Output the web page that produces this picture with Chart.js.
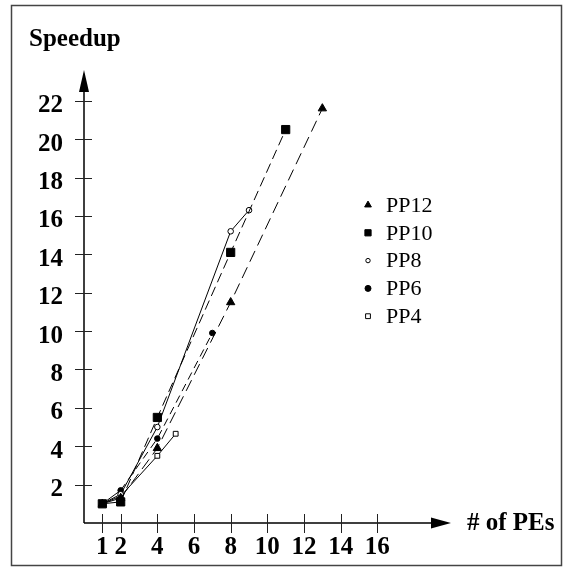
<!DOCTYPE html>
<html>
<head>
<meta charset="utf-8">
<script src="https://cdn.jsdelivr.net/npm/chart.js@4.4.1/dist/chart.umd.min.js"></script>
<style>
  html, body { margin: 0; padding: 0; background: #fff; }
  #wrap { width: 566px; height: 570px; }
</style>
</head>
<body>
<div id="wrap"><canvas id="speedupChart" width="566" height="570"></canvas></div>
<script>
/* Speedup vs number of PEs */

const X_TICKS = [1, 2, 4, 6, 8, 10, 12, 14, 16];
const Y_TICKS = [2, 4, 6, 8, 10, 12, 14, 16, 18, 20, 22];

const SERIES_NAMES = ['PP12', 'PP10', 'PP8', 'PP6', 'PP4'];

const PP12_X = [1, 2, 4, 8, 13];
const PP12_Y = [1.0, 1.3, 3.9, 11.5, 21.6];
const PP10_X = [1, 2, 4, 8, 11];
const PP10_Y = [1.0, 1.1, 5.5, 14.1, 20.5];
const PP8_X  = [1, 2, 4, 8, 9];
const PP8_Y  = [1.0, 1.5, 5.0, 15.2, 16.3];
const PP6_X  = [1, 2, 4, 7];
const PP6_Y  = [1.0, 1.7, 4.4, 9.9];
const PP4_X  = [1, 2, 4, 5];
const PP4_Y  = [1.0, 1.4, 3.5, 4.65];

const SERIF = '"Liberation Serif", "DejaVu Serif", serif';
const pts = (xs, ys) => xs.map((x, i) => ({ x: x, y: ys[i] }));

// marker + dash for each series
const STYLES = [
  { pt: 'triangle', r: 4.8, fill: '#000', dash: [12, 6], lr: 3.9 },
  { pt: 'rect',     r: 5.8, fill: '#000', dash: [10, 5], lr: 4.4 },
  { pt: 'circle',   r: 2.8, fill: '#fff', dash: [],      lr: 2.2 },
  { pt: 'circle',   r: 2.8, fill: '#000', dash: [8, 5],  lr: 3.0 },
  { pt: 'rect',     r: 3.4, fill: '#fff', dash: [],      lr: 3.4 }
];
const DATA = [pts(PP12_X, PP12_Y), pts(PP10_X, PP10_Y), pts(PP8_X, PP8_Y), pts(PP6_X, PP6_Y), pts(PP4_X, PP4_Y)];

const datasets = SERIES_NAMES.map((name, i) => {
  const s = STYLES[i];
  return {
    label: name,
    data: DATA[i],
    borderColor: '#000',
    borderWidth: 1,
    backgroundColor: s.fill,
    pointStyle: s.pt,
    pointRadius: s.r,
    pointBorderWidth: 1,
    pointBorderColor: '#000',
    pointBackgroundColor: s.fill,
    legendRadius: s.lr,
    segment: { borderDash: c => c.p0DataIndex === 0 ? [] : s.dash },
    tension: 0,
    clip: false
  };
});

// axes with arrows, crossing tick marks, titles, frame, legend
const decorPlugin = {
  id: 'decor',
  afterDraw(chart) {
    const ctx = chart.ctx;
    const xs = chart.scales.x, ys = chart.scales.y;
    const ox = xs.getPixelForValue(0), oy = ys.getPixelForValue(0);
    ctx.save();

    // frame
    ctx.strokeStyle = '#444';
    ctx.lineWidth = 1.5;
    ctx.strokeRect(11.5, 5.5, 550, 560);

    // axis lines
    ctx.strokeStyle = '#000';
    ctx.lineWidth = 1.5;
    ctx.beginPath();
    ctx.moveTo(ox, oy); ctx.lineTo(ox, 88);
    ctx.moveTo(ox, oy); ctx.lineTo(434, oy);
    ctx.stroke();

    // arrows
    ctx.fillStyle = '#000';
    ctx.beginPath();
    ctx.moveTo(ox, 70); ctx.lineTo(ox - 5, 92); ctx.lineTo(ox + 5, 92); ctx.closePath();
    ctx.fill();
    ctx.beginPath();
    ctx.moveTo(451, oy); ctx.lineTo(431, oy - 5.5); ctx.lineTo(431, oy + 5.5); ctx.closePath();
    ctx.fill();

    // tick marks crossing the axes
    ctx.lineWidth = 1;
    ctx.strokeStyle = '#222';
    ctx.beginPath();
    ys.ticks.forEach(t => {
      const py = Math.round(ys.getPixelForValue(t.value)) + 0.5;
      ctx.moveTo(ox - 9, py); ctx.lineTo(ox + 8, py);
    });
    xs.ticks.forEach(t => {
      const px = Math.round(xs.getPixelForValue(t.value)) + 0.5;
      ctx.moveTo(px, oy - 9); ctx.lineTo(px, oy + 10);
    });
    ctx.stroke();

    // titles
    ctx.fillStyle = '#000';
    ctx.font = 'bold 25px ' + SERIF;
    ctx.textAlign = 'left';
    ctx.textBaseline = 'alphabetic';
    ctx.fillText('Speedup', 29, 46);
    ctx.fillText('# of PEs', 467, 530);

    // legend
    chart.data.datasets.forEach((ds, i) => {
      const ly = 205 + i * 27.8;
      ctx.fillStyle = ds.pointBackgroundColor;
      ctx.strokeStyle = '#000';
      ctx.lineWidth = 1;
      ctx.setLineDash([]);
      Chart.helpers.drawPoint(ctx, {
        pointStyle: ds.pointStyle,
        radius: ds.legendRadius,
        rotation: 0,
        borderWidth: 1
      }, 368, ly);
      ctx.fillStyle = '#000';
      ctx.font = '22px ' + SERIF;
      ctx.textBaseline = 'middle';
      ctx.fillText(ds.label, 386, ly + 1);
    });
    ctx.restore();
  }
};

const tickFont = { family: SERIF, size: 25, weight: 'bold' };

new Chart(document.getElementById('speedupChart'), {
  type: 'line',
  data: { datasets: datasets },
  plugins: [decorPlugin],
  options: {
    responsive: false,
    animation: false,
    events: [],
    layout: { padding: { left: 0, top: 72, right: 115.3, bottom: 0 } },
    plugins: { legend: { display: false }, tooltip: { enabled: false } },
    scales: {
      x: {
        type: 'linear',
        min: 0, max: 20,
        afterBuildTicks: s => { s.ticks = X_TICKS.map(v => ({ value: v })); },
        afterFit: s => { s.height = 47; },
        grid: { display: false, drawTicks: false },
        border: { display: false },
        ticks: { font: tickFont, color: '#000', padding: 10, maxRotation: 0, autoSkip: false }
      },
      y: {
        type: 'linear',
        min: 0, max: 23.5,
        afterBuildTicks: s => { s.ticks = Y_TICKS.map(v => ({ value: v })); },
        afterFit: s => { s.width = 84; },
        grid: { display: false, drawTicks: false },
        border: { display: false },
        ticks: { font: tickFont, color: '#000', padding: 21, labelOffset: 5, autoSkip: false }
      }
    }
  }
});
</script>
</body>
</html>
